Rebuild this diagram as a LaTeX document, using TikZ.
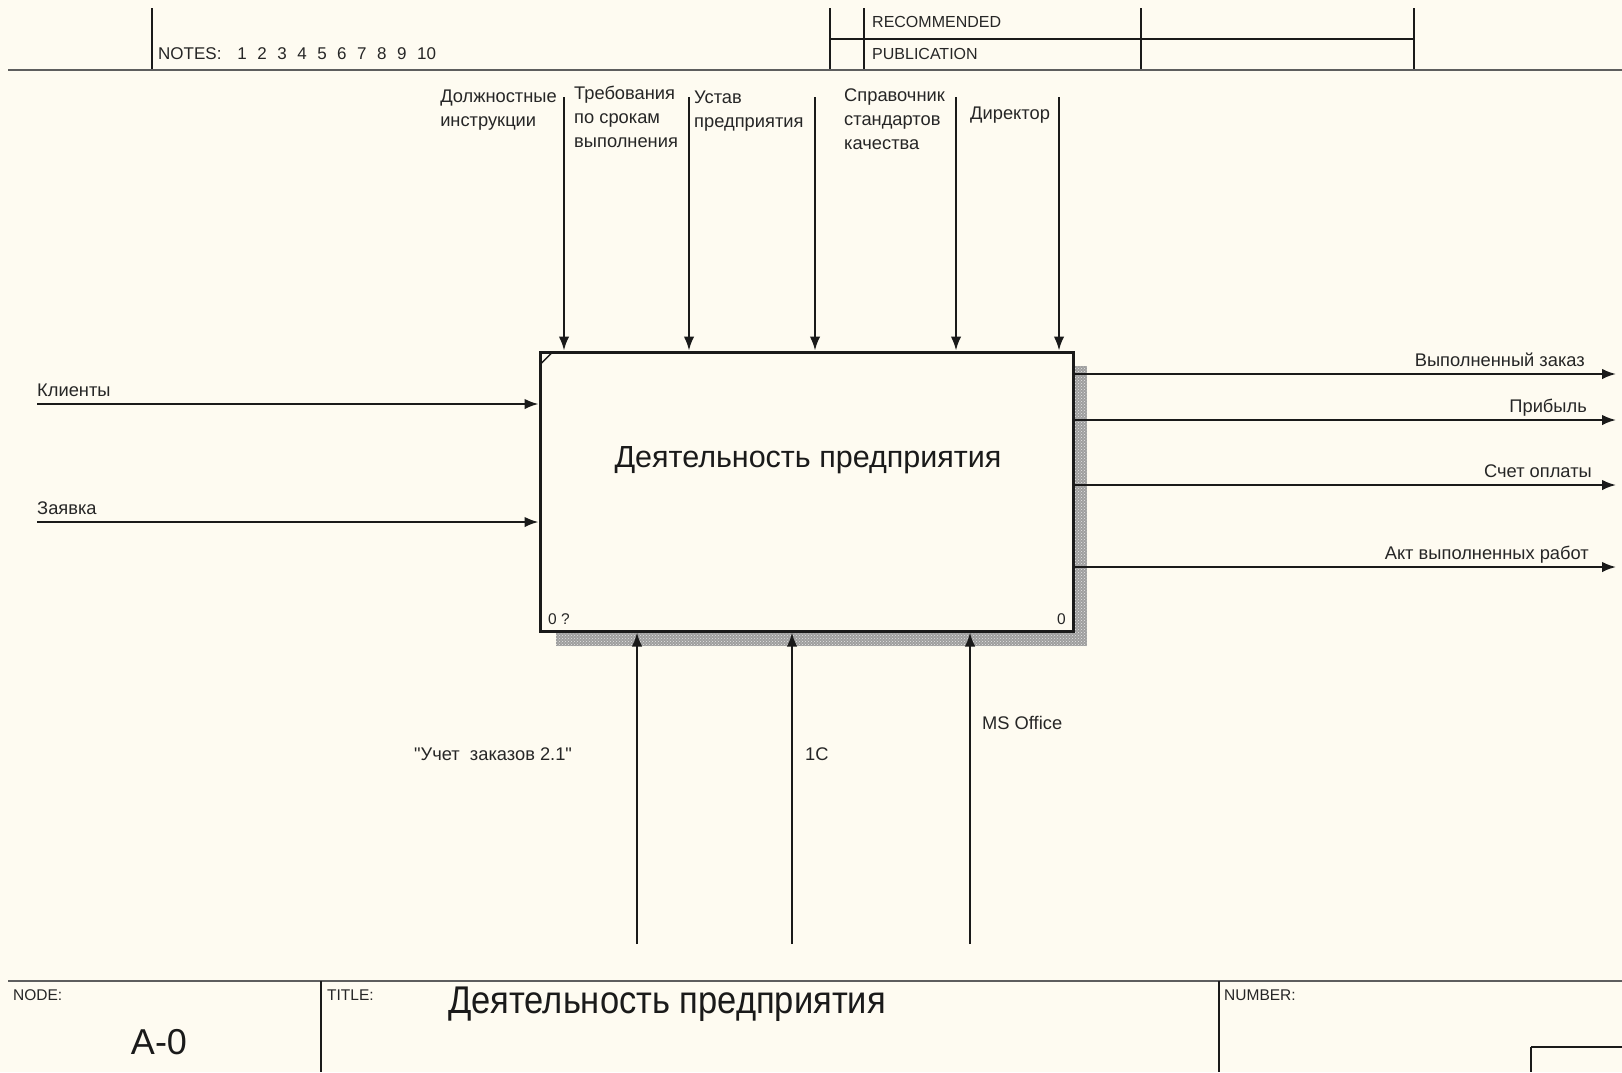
\documentclass[tikz,border=0pt]{standalone}
\usepackage{graphicx}
\usepackage{fontspec}
\setmainfont{Liberation Sans}[Ligatures=TeXOff]
\usetikzlibrary{arrows.meta,patterns}
\definecolor{bgc}{HTML}{FEFBF1}
\definecolor{ink}{HTML}{1A1A1A}
\definecolor{txt}{HTML}{262626}
\definecolor{rule}{HTML}{5E5E5E}
\begin{document}
\begin{tikzpicture}[x=1pt,y=-1pt,
  lbl/.style={inner sep=0pt, text=txt, font=\fontsize{18.3}{24}\selectfont, align=left},
  arr/.style={draw=ink, line width=2pt, -{Latex[length=14pt,width=10.5pt]}},
  framerule/.style={draw=rule, line width=2.8pt},
  thinrule/.style={draw=ink, line width=1.4pt},
  tiny/.style={inner sep=0pt, text=txt, font=\fontsize{15.5}{17}\selectfont},
  hdr/.style={inner sep=0pt, text=txt, font=\fontsize{16}{18}\selectfont},
]
\fill[bgc] (0,0) rectangle (1622,1072);
\useasboundingbox (0,0) rectangle (1622,1072);

% ---------- header ----------
\draw[thinrule] (152,8) -- (152,70);
\draw[thinrule] (830,8) -- (830,70);
\draw[thinrule] (864,8) -- (864,70);
\draw[thinrule] (1141,8) -- (1141,70);
\draw[thinrule] (1414,8) -- (1414,70);
\draw[thinrule] (830,39) -- (1414,39);
\draw[framerule] (8,70) -- (1622,70);
\node[hdr, anchor=base west, font=\fontsize{17}{18}\selectfont] (notes) at (158,59)
  {NOTES:\hspace{16pt}1\hspace{10.5pt}2\hspace{10.5pt}3\hspace{10.5pt}4\hspace{10.5pt}5\hspace{10.5pt}6\hspace{10.5pt}7\hspace{10.5pt}8\hspace{10.5pt}9\hspace{10.5pt}10};
\node[hdr, anchor=base west] (recom) at (872,27) {RECOMMENDED};
\node[hdr, anchor=base west] (publ) at (872,59) {PUBLICATION};

% ---------- activity box ----------
\fill[black!38] (556,366) rectangle (1087,646);
\fill[pattern=crosshatch dots, pattern color=white!80!gray] (556,366) rectangle (1087,646);
\node[draw=ink, line width=3pt, fill=bgc, minimum width=533pt, minimum height=279pt, inner sep=0pt] (A0) at (806.5,491.5) {};
\draw[ink, line width=1.4pt] ([xshift=1.5pt,yshift=-14pt]A0.north west) -- ([xshift=14pt,yshift=-1.5pt]A0.north west);
\node[text=ink, inner sep=0pt, font=\fontsize{30.5}{36}\selectfont] (A0title) at (808,460) {Деятельность предприятия};
\node[tiny, anchor=base west] (A0num) at (548,624) {0 ?};
\node[tiny, anchor=base east] (A0cost) at (1066,624) {0};

% ---------- controls ----------
\coordinate (c1) at (564,97);
\coordinate (c2) at (689,97);
\coordinate (c3) at (815,97);
\coordinate (c4) at (956,97);
\coordinate (c5) at (1059,97);
\foreach \c in {c1,c2,c3,c4,c5} \draw[arr] (\c) -- (\c |- A0.north);
\node[lbl, anchor=north east, align=left] (lc1) at (557,90) {Должностные\\инструкции};
\node[lbl, anchor=north west] (lc2) at (574,86) {Требования\\по срокам\\выполнения};
\node[lbl, anchor=north west] (lc3) at (694,91) {Устав\\предприятия};
\node[lbl, anchor=north west] (lc4) at (844,89) {Справочник\\стандартов\\качества};
\node[lbl, anchor=north west] (lc5) at (970,107) {Директор};

% ---------- inputs ----------
\coordinate (i1) at (37,404);
\coordinate (i2) at (37,522);
\draw[arr] (i1) -- (i1 -| A0.west);
\draw[arr] (i2) -- (i2 -| A0.west);
\node[lbl, anchor=base west] (li1) at (37,396) {Клиенты};
\node[lbl, anchor=base west] (li2) at (37,514) {Заявка};

% ---------- outputs ----------
\coordinate (o1) at (1616,374);
\coordinate (o2) at (1616,420);
\coordinate (o3) at (1616,485);
\coordinate (o4) at (1616,567);
\foreach \o in {o1,o2,o3,o4} \draw[arr] (\o -| A0.east) -- (\o);
\node[lbl, anchor=base east] (lo1) at (1585,366) {Выполненный заказ};
\node[lbl, anchor=base east] (lo2) at (1587,412) {Прибыль};
\node[lbl, anchor=base east] (lo3) at (1592,477) {Счет оплаты};
\node[lbl, anchor=base east] (lo4) at (1589,559) {Акт выполненных работ};

% ---------- mechanisms ----------
\coordinate (m1) at (637,944);
\coordinate (m2) at (792,944);
\coordinate (m3) at (970,944);
\foreach \m in {m1,m2,m3} \draw[arr] (\m) -- (\m |- A0.south);
\node[lbl, anchor=base west] (lm1) at (414,760) {"Учет\ \ заказов 2.1"};
\node[lbl, anchor=base west] (lm2) at (805,760) {1С};
\node[lbl, anchor=base west] (lm3) at (982,729) {MS Office};

% ---------- footer ----------
\draw[framerule] (8,981) -- (1622,981);
\draw[thinrule] (321,981) -- (321,1072);
\draw[thinrule] (1219,981) -- (1219,1072);
\draw[thinrule] (1531,1047) -- (1622,1047);
\draw[thinrule] (1531,1047) -- (1531,1072);
\node[tiny, anchor=base west] (fnode) at (13,1000) {NODE:};
\node[tiny, anchor=base west] (ftitle) at (327,1000) {TITLE:};
\node[tiny, anchor=base west] (fnum) at (1224,1000) {NUMBER:};
\node[text=ink, inner sep=0pt, font=\fontsize{30}{34}\selectfont] (fA0) at (159,1042) {\scalebox{1.2}[1.2]{A-0}};
\node[text=ink, inner sep=0pt, anchor=west, font=\fontsize{34.5}{40}\selectfont] (ftext) at (448,1004) {\scalebox{1}[1.12]{Деятельность предприятия}};
\end{tikzpicture}
\end{document}
